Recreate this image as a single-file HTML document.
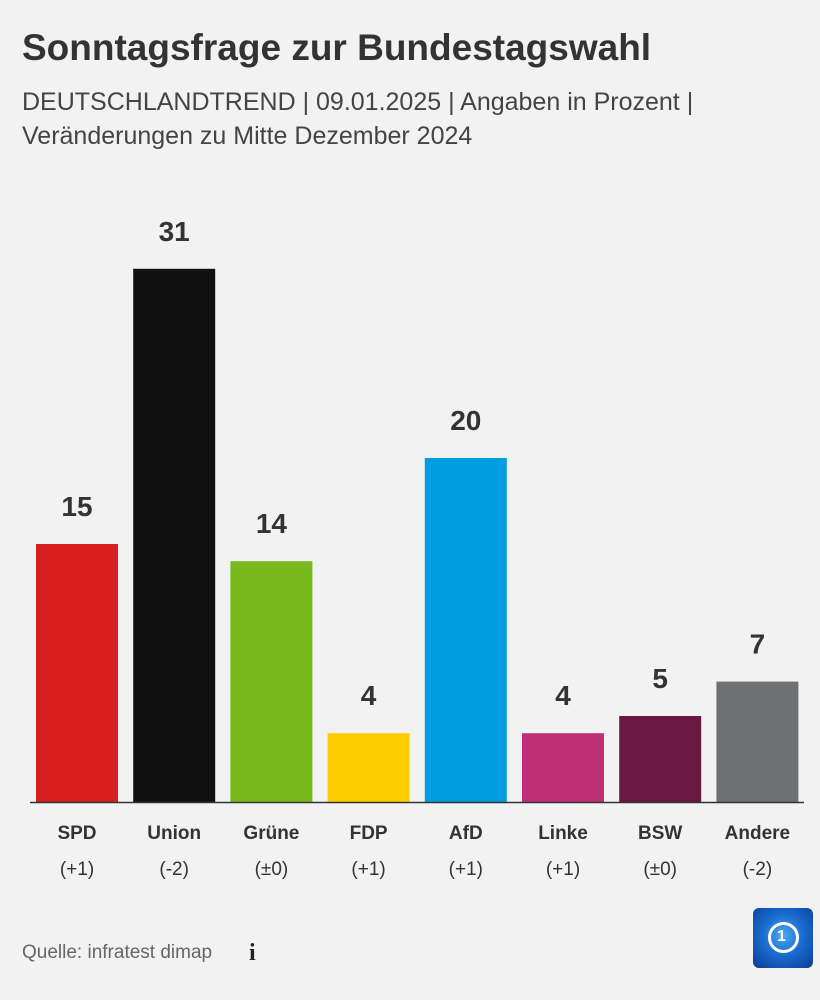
<!DOCTYPE html>
<html><head><meta charset="utf-8"><style>
body{margin:0;width:820px;height:1000px;background:#f2f2f2;font-family:"Liberation Sans",sans-serif;color:#333;overflow:hidden;position:relative}
.t{position:absolute;white-space:nowrap}
</style></head><body>
<div class="t" style="left:22px;top:27px;font-size:37px;font-weight:bold;color:#333">Sonntagsfrage zur Bundestagswahl</div>
<div class="t" style="left:22px;top:85px;font-size:25px;line-height:34px;color:#444">DEUTSCHLANDTREND | 09.01.2025 | Angaben in Prozent |<br>Veränderungen zu Mitte Dezember 2024</div>
<svg id="chart" width="820" height="1000" style="position:absolute;left:0;top:0"></svg>
<div class="t" style="left:22px;top:942px;font-size:19px;color:#666">Quelle: infratest dimap</div>
<div class="t" style="left:249px;top:940px;font-size:24px;font-weight:bold;font-family:'Liberation Serif',serif;color:#222">i</div>
<div style="position:absolute;left:753px;top:908px;width:60px;height:60px;border-radius:6px;background:radial-gradient(circle at 50% 45%,#4aa8f0 0%,#1a6cd0 45%,#0a3d94 100%)">
<div style="position:absolute;left:15px;top:14px;width:25px;height:25px;border:3px solid #fff;border-radius:50%"></div>
<div style="position:absolute;left:24px;top:20px;font-size:16px;font-weight:bold;color:#fff">1</div>
</div>
<script>
const parties=["SPD","Union","Grüne","FDP","AfD","Linke","BSW","Andere"];
const values=[15,31,14,4,20,4,5,7];
const changes=["(+1)","(-2)","(±0)","(+1)","(+1)","(+1)","(±0)","(-2)"];
const colors=["#d71f1f","#111111","#78b91e","#ffcc00","#009ee0","#be3075","#6b1842","#6f7071"];
const svg=document.getElementById('chart');const NS="http://www.w3.org/2000/svg";
const base=802,scale=17.2,x0=36,step=97.2,bw=82;
const y=v=>base-v*scale;const x=i=>x0+i*step;
function mk(t,a){const e=document.createElementNS(NS,t);for(const k in a)e.setAttribute(k,a[k]);svg.appendChild(e);return e;}
parties.forEach((p,i)=>{
const r=mk('rect',{x:x(i),y:y(values[i]),width:bw,height:values[i]*scale,fill:colors[i]});


const v=mk('text',{x:x(i)+bw/2,y:y(values[i])-28,'text-anchor':'middle','font-size':28,'font-weight':'bold',fill:'#333'});v.textContent=values[i];


const l=mk('text',{x:x(i)+bw/2,y:839,'text-anchor':'middle','font-size':19,'font-weight':'bold',fill:'#333'});l.textContent=p;


const c=mk('text',{x:x(i)+bw/2,y:875,'text-anchor':'middle','font-size':19,fill:'#333'});c.textContent=changes[i];


});
const ax=mk('line',{x1:30,x2:804,y1:base+0.5,y2:base+0.5,stroke:'#333','stroke-width':1.5});


</script>
</body></html>
